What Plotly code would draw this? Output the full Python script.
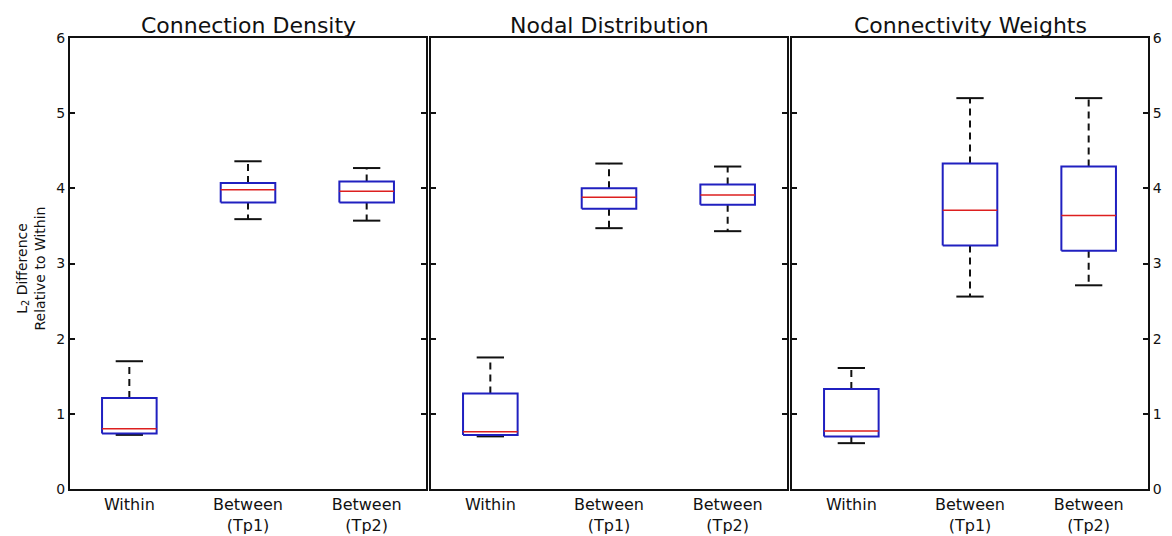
import plotly.graph_objects as go

# ---- data ----
categories = ["Within", "Between<br>(Tp1)", "Between<br>(Tp2)"]
panel_titles = ["Connection Density", "Nodal Distribution", "Connectivity Weights"]

cd_low = [0.72, 3.59, 3.57]
cd_q1 = [0.74, 3.81, 3.81]
cd_med = [0.80, 3.98, 3.96]
cd_q3 = [1.21, 4.07, 4.09]
cd_high = [1.70, 4.36, 4.27]

nd_low = [0.70, 3.47, 3.43]
nd_q1 = [0.72, 3.73, 3.78]
nd_med = [0.76, 3.88, 3.91]
nd_q3 = [1.27, 4.00, 4.05]
nd_high = [1.75, 4.33, 4.29]

cw_low = [0.61, 2.56, 2.71]
cw_q1 = [0.70, 3.24, 3.17]
cw_med = [0.77, 3.71, 3.64]
cw_q3 = [1.33, 4.33, 4.29]
cw_high = [1.61, 5.20, 5.20]

y_ticks = [0, 1, 2, 3, 4, 5, 6]

panels = [
    (cd_low, cd_q1, cd_med, cd_q3, cd_high),
    (nd_low, nd_q1, nd_med, nd_q3, nd_high),
    (cw_low, cw_q1, cw_med, cw_q3, cw_high),
]

# ---- style ----
BOX_HW = 0.23
CAP_HW = 0.115
BLUE = "#2020c0"
RED = "#dd1f1f"
BLACK = "#111111"
FONT = "DejaVu Sans"

PLOT_W = 1078
PLOT_H = 451
gap = 5 / PLOT_W
w = (1 - 2 * gap) / 3
domains = [[i * (w + gap), i * (w + gap) + w] for i in range(3)]

fig = go.Figure()

for p, (low, q1, med, q3, high) in enumerate(panels):
    xa = "x" if p == 0 else f"x{p+1}"
    ya = "y" if p == 0 else f"y{p+1}"
    positions = list(range(1, len(categories) + 1))
    bx, by, mx, my, wx, wy, cx, cy = [], [], [], [], [], [], [], []
    for i, pos in enumerate(positions):
        bx += [pos - BOX_HW, pos + BOX_HW, pos + BOX_HW, pos - BOX_HW, pos - BOX_HW, None]
        by += [q1[i], q1[i], q3[i], q3[i], q1[i], None]
        mx += [pos - BOX_HW, pos + BOX_HW, None]
        my += [med[i], med[i], None]
        wx += [pos, pos, None, pos, pos, None]
        wy += [q3[i], high[i], None, q1[i], low[i], None]
        cx += [pos - CAP_HW, pos + CAP_HW, None, pos - CAP_HW, pos + CAP_HW, None]
        cy += [high[i], high[i], None, low[i], low[i], None]
    fig.add_trace(go.Scatter(x=wx, y=wy, mode="lines", xaxis=xa, yaxis=ya,
                             line=dict(color=BLACK, width=2, dash="7px,5px"),
                             showlegend=False, hoverinfo="skip"))
    fig.add_trace(go.Scatter(x=cx, y=cy, mode="lines", xaxis=xa, yaxis=ya,
                             line=dict(color=BLACK, width=2),
                             showlegend=False, hoverinfo="skip"))
    fig.add_trace(go.Scatter(x=bx, y=by, mode="lines", xaxis=xa, yaxis=ya,
                             line=dict(color=BLUE, width=2),
                             showlegend=False, hoverinfo="skip"))
    fig.add_trace(go.Scatter(x=mx, y=my, mode="lines", xaxis=xa, yaxis=ya,
                             line=dict(color=RED, width=1.5),
                             showlegend=False, hoverinfo="skip"))

    xkey = "xaxis" if p == 0 else f"xaxis{p+1}"
    ykey = "yaxis" if p == 0 else f"yaxis{p+1}"
    fig.layout[xkey] = dict(
        domain=domains[p], range=[0.5, 3.5], anchor=ya,
        tickmode="array", tickvals=positions, ticktext=categories,
        ticks="", showgrid=False, zeroline=False, automargin=False,
        showline=True, linecolor=BLACK, linewidth=2, mirror=True,
        tickfont=dict(family=FONT, size=16, color=BLACK),
    )
    fig.layout[ykey] = dict(
        domain=[0, 1], range=[0, 6], anchor=xa,
        tickmode="array", tickvals=y_ticks,
        ticks="inside", ticklen=5, tickwidth=1.5, tickcolor=BLACK,
        showgrid=False, zeroline=False, automargin=False,
        showline=True, linecolor=BLACK, linewidth=2, mirror="ticks",
        showticklabels=(p != 1),
        side="right" if p == 2 else "left",
        tickfont=dict(family=FONT, size=14, color=BLACK),
    )
    fig.add_annotation(
        text=panel_titles[p], xref="paper", yref="paper",
        x=(domains[p][0] + domains[p][1]) / 2, y=1,
        xanchor="center", yanchor="bottom",
        yshift=0, borderpad=0, borderwidth=0, showarrow=False,
        font=dict(family=FONT, size=22, color=BLACK),
    )

fig.add_annotation(
    text="L<sub>2</sub> Difference<br>Relative to Within",
    xref="paper", yref="paper", x=-40 / PLOT_W, y=0.5 - 5 / PLOT_H,
    xanchor="center", yanchor="middle",
    textangle=-90, showarrow=False,
    font=dict(family=FONT, size=14, color=BLACK),
)

# page body has an 8px margin; compensate so the plot area lands where the reference has it
fig.update_layout(
    width=1164, height=528,
    margin=dict(l=62, r=24, t=30, b=47),
    paper_bgcolor="white", plot_bgcolor="white",
)

fig.write_html("out.html")
